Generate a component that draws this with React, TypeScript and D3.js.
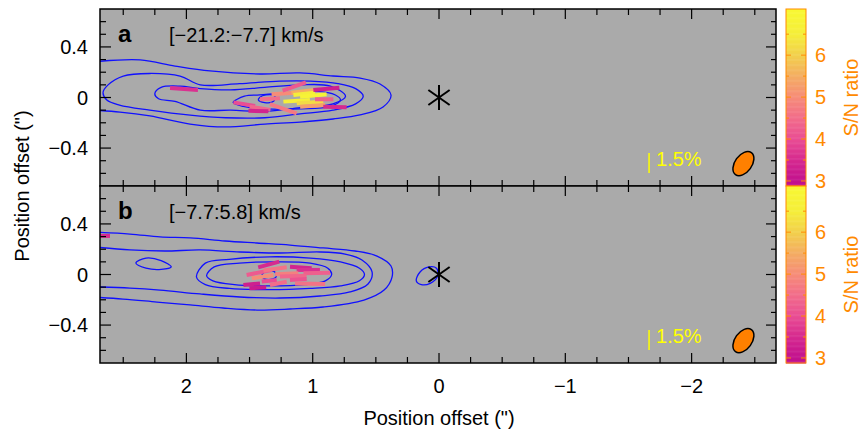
import React from 'react';
import * as d3 from 'd3';

// ---------- data ----------
const xTickValues = [2, 1, 0, -1, -2];
const yTickValues = [0.4, 0, -0.4];
const snTickValues = [3, 4, 5, 6];
const panelLetters = ['a', 'b'];
const velocityRanges = ['[\u221221.2:\u22127.7] km/s', '[\u22127.7:5.8] km/s'];

// contours [x(arcsec), y(arcsec)] ; open ones run off the left edge
const contoursA: number[][][] = [
  [[2.75,0.281],[2.367,0.297],[2.09,0.249],[1.813,0.21],[1.417,0.186],[1.101,0.194],[0.839,0.17],[0.625,0.154],[0.467,0.107],[0.38,0.02],[0.443,-0.075],[0.625,-0.138],[0.839,-0.17],[1.101,-0.194],[1.378,-0.21],[1.694,-0.233],[1.971,-0.21],[2.288,-0.146],[2.526,-0.115],[2.75,-0.099]],
  [[2.66,0.04],[2.62,0.1],[2.5,0.17],[2.29,0.19],[2.05,0.17],[1.89,0.1],[1.58,0.11],[1.26,0.13],[1.02,0.13],[0.8,0.11],[0.66,0.07],[0.6,0.01],[0.66,-0.05],[0.84,-0.1],[1.1,-0.13],[1.38,-0.16],[1.69,-0.16],[1.97,-0.14],[2.29,-0.1],[2.53,-0.06],[2.63,-0.02]],
  [[2.25,0.03],[2.2,0.08],[2.05,0.09],[1.89,0.07],[1.65,0.06],[1.38,0.08],[1.1,0.1],[0.86,0.09],[0.74,0.01],[0.84,-0.05],[1.1,-0.08],[1.38,-0.11],[1.65,-0.1],[1.89,-0.1],[2.09,-0.03],[2.22,-0.01]],
  [[1.63,-0.04],[1.54,0.01],[1.42,0.02],[1.18,0.04],[0.98,0.05],[0.82,0.02],[0.78,-0.02],[0.86,-0.07],[1.1,-0.09],[1.38,-0.09],[1.55,-0.07]],
  [[1.42,0.0],[1.37,0.02],[1.3,0.01],[1.31,-0.03],[1.38,-0.04],[1.43,-0.02]],
];
const contoursAOpen = [true, false, false, false, false];

const contoursB: number[][][] = [
  [[2.75,0.336],[2.447,0.32],[2.209,0.297],[1.971,0.289],[1.694,0.265],[1.441,0.249],[1.18,0.233],[0.918,0.21],[0.665,0.186],[0.491,0.146],[0.38,0.067],[0.372,-0.02],[0.435,-0.123],[0.594,-0.202],[0.918,-0.257],[1.18,-0.273],[1.441,-0.281],[1.71,-0.265],[1.971,-0.241],[2.233,-0.218],[2.502,-0.194],[2.75,-0.178]],
  [[2.75,0.22],[2.447,0.194],[2.169,0.186],[1.892,0.194],[1.576,0.178],[1.259,0.17],[0.942,0.178],[0.744,0.162],[0.61,0.115],[0.53,0.02],[0.562,-0.075],[0.705,-0.138],[0.942,-0.17],[1.259,-0.186],[1.576,-0.178],[1.892,-0.154],[2.209,-0.123],[2.447,-0.107],[2.75,-0.097]],
  [[1.92,-0.02],[1.85,0.09],[1.66,0.12],[1.34,0.14],[1.02,0.13],[0.78,0.1],[0.63,0.05],[0.59,0.0],[0.63,-0.05],[0.78,-0.09],[1.02,-0.11],[1.34,-0.12],[1.66,-0.11],[1.85,-0.08]],
  [[1.84,-0.01],[1.78,0.06],[1.58,0.09],[1.3,0.1],[1.02,0.09],[0.88,0.05],[0.85,0.0],[0.9,-0.05],[1.06,-0.08],[1.34,-0.09],[1.62,-0.08],[1.79,-0.05]],
  [[1.4,0.0],[1.36,0.03],[1.3,0.02],[1.29,-0.02],[1.35,-0.04],[1.4,-0.02]],
  [[2.4,0.09],[2.32,0.13],[2.2,0.11],[2.12,0.06],[2.2,0.04],[2.32,0.05]],
  [[0.18,-0.05],[0.15,0.02],[0.08,0.06],[0.02,0.05],[0.01,-0.01],[0.07,-0.07],[0.14,-0.08]],
];
const contoursBOpen = [true, true, false, false, false, false, false];

// polarization vectors: [x, y, pol %, screen angle deg, S/N]
const vectorsA: number[][] = [
  [2.019,0.067,2.1,-4,3.6],[1.542,-0.053,1.65,-9.7,4.0],[1.417,-0.085,1.58,-9,4.4],
  [1.43,-0.107,1.5,-1.7,3.4],[1.338,-0.01,1.5,3,4.5],[1.233,-0.089,2.13,-19.3,4.7],
  [1.233,0.032,1.76,4,5.0],[1.146,0.087,1.86,19.8,4.2],[1.127,-0.026,2.0,3.6,6.6],
  [1.076,0.049,1.77,6.6,5.5],[1.067,0.029,1.64,6,6.5],[1.021,-0.04,2.0,3.4,6.2],
  [1.001,-0.066,1.88,3.9,5.3],[0.995,0.016,2.0,5,6.8],[0.909,-0.014,1.38,0,4.3],
  [0.892,0.069,1.96,5,3.3],[0.824,-0.075,1.76,-1.5,3.5],
];
const vectorsB: number[][] = [
  [1.348,0.079,1.64,15,3.5],[1.424,0.016,1.92,11,4.2],[1.298,0.044,1.77,8,4.6],
  [1.094,0.055,1.63,-4,3.4],[1.035,0.036,1.75,0,3.6],[1.206,0.006,1.75,2.5,4.8],
  [0.968,0.012,2.0,1,4.3],[1.397,-0.017,1.64,8.7,5.0],[1.154,-0.013,2.0,2,4.4],
  [1.114,-0.04,1.26,3.4,4.1],[1.021,-0.073,2.26,-1.3,4.6],[1.483,-0.077,1.26,5.7,3.3],
  [1.435,-0.105,1.26,3.4,3.2],[1.344,-0.05,1.13,6,4.0],[1.272,-0.07,1.28,11,4.5],
  [2.652,0.305,0.9,0,3.5],
];

const scaleBarPct = 1.5;
const scaleBarPos = [-1.663, -0.518];
const beam = { x: -2.41, y: -0.523, major: 0.107, minor: 0.067, pa: 36 };
const snStops = [3.0, 3.5, 4.0, 4.5, 5.0, 5.5, 6.0, 6.5, 7.1];
const snColors = ['#c2118e', '#d62a8f', '#e94d93', '#f26d8a', '#f68c78', '#f4ad62', '#f2d04c', '#f5ee3a', '#f8f832'];
const snDomain = [2.88, 7.1];
const arcsecPerPct = 0.1053;

// ---------- layout ----------
const W = 861, H = 439;
const L = 100, R = 776;
const panelTop = [9, 186];
const panelH = 177;
const cbL = 786, cbR = 806;
const FONT = 'Liberation Sans, Arial, Helvetica, sans-serif';

const x = d3.scaleLinear().domain([2.684, -2.668]).range([L, R]);
const snColor = d3.scaleLinear<string>().domain(snStops).range(snColors).clamp(true);

function Panel({ idx }: { idx: number }) {
  const top = panelTop[idx];
  const bottom = top + panelH;
  const y = d3.scaleLinear().domain([-0.7, 0.7]).range([bottom, top]);
  const contours = idx === 0 ? contoursA : contoursB;
  const open = idx === 0 ? contoursAOpen : contoursBOpen;
  const vectors = idx === 0 ? vectorsA : vectorsB;
  const clipId = `clip${idx}`;
  const pxPerPct = Math.abs(x(0) - x(arcsecPerPct));

  const xMinor = d3.range(-2.5, 2.51, 0.25).filter(v => Math.abs(v - Math.round(v)) > 1e-6);
  const yMinor = d3.range(-0.6, 0.61, 0.1).filter(v => !yTickValues.some(t => Math.abs(t - v) < 1e-6));

  const star = { cx: x(0), cy: y(0) };
  const sb = { x: x(scaleBarPos[0]), y: y(scaleBarPos[1]) };
  const bx = x(beam.x), by = y(beam.y);
  const bMaj = Math.abs(y(0) - y(beam.major * 2)) / 2;
  const bMin = Math.abs(x(0) - x(beam.minor * 2)) / 2;

  const cby = d3.scaleLinear().domain(snDomain).range([bottom, top]);
  const cbSteps = d3.range(snDomain[0], snDomain[1], 0.02);
  const cbMinor = d3.range(3.5, 7.01, 1);

  return (
    <g>
      <clipPath id={clipId}><rect x={L} y={top} width={R - L} height={panelH} /></clipPath>
      <rect x={L} y={top} width={R - L} height={panelH} fill="#aaaaaa" />
      <g clipPath={`url(#${clipId})`}>
        {contours.map((c, i) => {
          const line = d3.line<number[]>().x(d => x(d[0])).y(d => y(d[1]))
            .curve(open[i] ? d3.curveCatmullRom.alpha(0.5) : d3.curveCatmullRomClosed.alpha(0.5));
          return <path key={i} d={line(c) || ''} fill="none" stroke="#1010ff" strokeWidth={1.3} />;
        })}
        {vectors.map((v, i) => {
          const cx = x(v[0]), cy = y(v[1]);
          const half = (v[2] * pxPerPct) / 2;
          const a = (v[3] * Math.PI) / 180;
          const dx = Math.cos(a) * half, dy = -Math.sin(a) * half;
          return <line key={i} x1={cx - dx} y1={cy - dy} x2={cx + dx} y2={cy + dy} stroke={snColor(v[4])} strokeWidth={4} />;
        })}
        <g stroke="#000" strokeWidth={2}>
          {[90, 35, 145].map(ang => {
            const a = (ang * Math.PI) / 180;
            const r = ang === 90 ? 12.5 : 13;
            return <line key={ang} x1={star.cx - Math.cos(a) * r} y1={star.cy + Math.sin(a) * r} x2={star.cx + Math.cos(a) * r} y2={star.cy - Math.sin(a) * r} />;
          })}
        </g>
        <line x1={sb.x} x2={sb.x} y1={sb.y - (scaleBarPct * pxPerPct) / 2} y2={sb.y + (scaleBarPct * pxPerPct) / 2} stroke="#ffff00" strokeWidth={1.5} />
        <text x={sb.x + 7} y={sb.y + 3} fill="#ffff00" fontSize={20} fontFamily={FONT}>{`${scaleBarPct}%`}</text>
        <ellipse cx={bx} cy={by} rx={bMin} ry={bMaj} transform={`rotate(${beam.pa} ${bx} ${by})`} fill="#ff8000" stroke="#000" strokeWidth={1.5} />
      </g>
      <text x={118} y={top + 33} fontSize={24} fontWeight="bold" fontFamily={FONT}>{panelLetters[idx]}</text>
      <text x={169} y={top + 33} fontSize={20} fontFamily={FONT}>{velocityRanges[idx]}</text>
      {/* ticks */}
      <g stroke="#000" strokeWidth={1.2}>
        {xTickValues.map(v => (
          <g key={'xt' + v}>
            <line x1={x(v)} x2={x(v)} y1={bottom} y2={bottom - 10} />
            <line x1={x(v)} x2={x(v)} y1={top} y2={top + 10} />
          </g>
        ))}
        {xMinor.map(v => (
          <g key={'xm' + v}>
            <line x1={x(v)} x2={x(v)} y1={bottom} y2={bottom - 6} />
            <line x1={x(v)} x2={x(v)} y1={top} y2={top + 6} />
          </g>
        ))}
        {yTickValues.map(v => (
          <g key={'yt' + v}>
            <line x1={L} x2={L + 11} y1={y(v)} y2={y(v)} />
            <line x1={R} x2={R - 10} y1={y(v)} y2={y(v)} />
          </g>
        ))}
        {yMinor.map(v => (
          <g key={'ym' + v}>
            <line x1={L} x2={L + 6} y1={y(v)} y2={y(v)} />
            <line x1={R} x2={R - 5} y1={y(v)} y2={y(v)} />
          </g>
        ))}
      </g>
      <rect x={L} y={top} width={R - L} height={panelH} fill="none" stroke="#000" strokeWidth={1.5} />
      {yTickValues.map(v => (
        <text key={'yl' + v} x={88} y={y(v) + 7} textAnchor="end" fontSize={20} fontFamily={FONT}>
          {v === 0 ? '0' : v < 0 ? `\u2212${Math.abs(v)}` : `${v}`}
        </text>
      ))}
      {/* colorbar */}
      {cbSteps.map((s, i) => (
        <rect key={i} x={cbL} y={cby(Math.min(s + 0.02, snDomain[1]))} width={cbR - cbL} height={Math.abs(cby(s) - cby(Math.min(s + 0.02, snDomain[1]))) + 0.5} fill={snColor(s)} />
      ))}
      <g stroke="#ff8a00" strokeWidth={1}>
        {snTickValues.map(v => (
          <g key={'ct' + v}>
            <line x1={cbL} x2={cbL + 5} y1={cby(v)} y2={cby(v)} />
            <line x1={cbR} x2={cbR - 5} y1={cby(v)} y2={cby(v)} />
          </g>
        ))}
        {cbMinor.map(v => (
          <g key={'cm' + v}>
            <line x1={cbL} x2={cbL + 3} y1={cby(v)} y2={cby(v)} />
            <line x1={cbR} x2={cbR - 3} y1={cby(v)} y2={cby(v)} />
          </g>
        ))}
      </g>
      <rect x={cbL} y={top} width={cbR - cbL} height={panelH} fill="none" stroke="#ff8a00" strokeWidth={1} />
      {snTickValues.map(v => (
        <text key={'cl' + v} x={815} y={cby(v) + 7} fontSize={20} fill="#ff8a00" fontFamily={FONT}>{v}</text>
      ))}
      <text transform={`translate(858 ${top + panelH / 2}) rotate(-90)`} textAnchor="middle" fontSize={20} fill="#ff8a00" fontFamily={FONT}>S/N ratio</text>
    </g>
  );
}

export default function App() {
  return (
    <svg width={W} height={H} style={{ position: 'absolute', left: 0, top: 0, background: '#fff' }}>
      <rect width={W} height={H} fill="#fff" />
      <Panel idx={0} />
      <Panel idx={1} />
      {xTickValues.map(v => (
        <text key={'xl' + v} x={x(v)} y={393} textAnchor="middle" fontSize={20} fontFamily={FONT}>
          {v < 0 ? `\u2212${Math.abs(v)}` : `${v}`}
        </text>
      ))}
      <text x={x(0)} y={425} textAnchor="middle" fontSize={20} fontFamily={FONT}>Position offset (")</text>
      <text transform={`translate(29 186) rotate(-90)`} textAnchor="middle" fontSize={20} fontFamily={FONT}>Position offset (")</text>
    </svg>
  );
}
